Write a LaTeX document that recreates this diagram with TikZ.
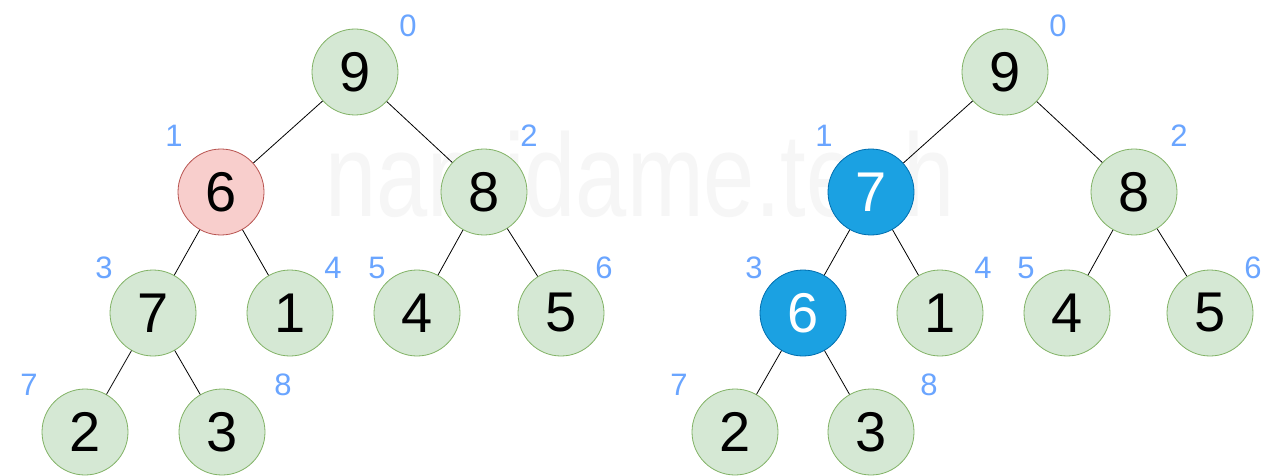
\documentclass[tikz,border=0pt]{standalone}
\usepackage{fontspec}
\setmainfont{Liberation Sans}
\definecolor{gfill}{HTML}{D5E8D4}
\definecolor{gdraw}{HTML}{82B366}
\definecolor{rfill}{HTML}{F8CECC}
\definecolor{rdraw}{HTML}{B85450}
\definecolor{bfill}{HTML}{1BA1E2}
\definecolor{bdraw}{HTML}{006EAF}
\definecolor{idx}{HTML}{6AA5FF}
\definecolor{wm}{HTML}{F6F6F6}
\tikzset{
  heapnode/.style={circle, minimum size=86pt, inner sep=0pt, fill=gfill, draw=gdraw, line width=0.8pt, font=\fontsize{56}{56}\selectfont},
  rednode/.style={heapnode, fill=rfill, draw=rdraw},
  bluenode/.style={heapnode, fill=bfill, draw=bdraw, text=white},
  idxlabel/.style={text=idx, inner sep=0pt, font=\fontsize{31}{31}\selectfont},
  edge/.style={draw=black, line width=0.8pt},
}
\begin{document}
\begin{tikzpicture}[x=1pt,y=-1pt]
\useasboundingbox (0,0) rectangle (1280,476);
\fill[white] (0,0) rectangle (1280,476);
\node[text=wm, anchor=base, inner sep=0pt, font=\fontsize{118}{118}\selectfont] (wmark) at (640,216) {\scalebox{0.78}[1]{namidame.tech}};
% left tree
\node[heapnode] (l0) at (355,72) {9};
\node[rednode] (l1) at (221,192) {6};
\node[heapnode] (l2) at (484,192) {8};
\node[heapnode] (l3) at (153,313) {7};
\node[heapnode] (l4) at (290,313) {1};
\node[heapnode] (l5) at (417,313) {4};
\node[heapnode] (l6) at (561,313) {5};
\node[heapnode] (l7) at (85,432) {2};
\node[heapnode] (l8) at (222,432) {3};
\draw[edge] (l0) -- (l1);
\draw[edge] (l0) -- (l2);
\draw[edge] (l1) -- (l3);
\draw[edge] (l1) -- (l4);
\draw[edge] (l2) -- (l5);
\draw[edge] (l2) -- (l6);
\draw[edge] (l3) -- (l7);
\draw[edge] (l3) -- (l8);
\node[idxlabel] (li0) at (408,26) {0};
\node[idxlabel] (li1) at (174,136) {1};
\node[idxlabel] (li2) at (529,136) {2};
\node[idxlabel] (li3) at (104,268) {3};
\node[idxlabel] (li4) at (333,268) {4};
\node[idxlabel] (li5) at (377,268) {5};
\node[idxlabel] (li6) at (604,268) {6};
\node[idxlabel] (li7) at (29,385) {7};
\node[idxlabel] (li8) at (283,385) {8};
% right tree
\node[heapnode] (r0) at (1005,72) {9};
\node[bluenode] (r1) at (871,192) {7};
\node[heapnode] (r2) at (1134,192) {8};
\node[bluenode] (r3) at (803,313) {6};
\node[heapnode] (r4) at (940,313) {1};
\node[heapnode] (r5) at (1067,313) {4};
\node[heapnode] (r6) at (1210,313) {5};
\node[heapnode] (r7) at (735,432) {2};
\node[heapnode] (r8) at (871,432) {3};
\draw[edge] (r0) -- (r1);
\draw[edge] (r0) -- (r2);
\draw[edge] (r1) -- (r3);
\draw[edge] (r1) -- (r4);
\draw[edge] (r2) -- (r5);
\draw[edge] (r2) -- (r6);
\draw[edge] (r3) -- (r7);
\draw[edge] (r3) -- (r8);
\node[idxlabel] (ri0) at (1058,26) {0};
\node[idxlabel] (ri1) at (824,136) {1};
\node[idxlabel] (ri2) at (1179,136) {2};
\node[idxlabel] (ri3) at (754,268) {3};
\node[idxlabel] (ri4) at (983,268) {4};
\node[idxlabel] (ri5) at (1026,268) {5};
\node[idxlabel] (ri6) at (1253,268) {6};
\node[idxlabel] (ri7) at (679,385) {7};
\node[idxlabel] (ri8) at (929,385) {8};
\end{tikzpicture}
\end{document}
